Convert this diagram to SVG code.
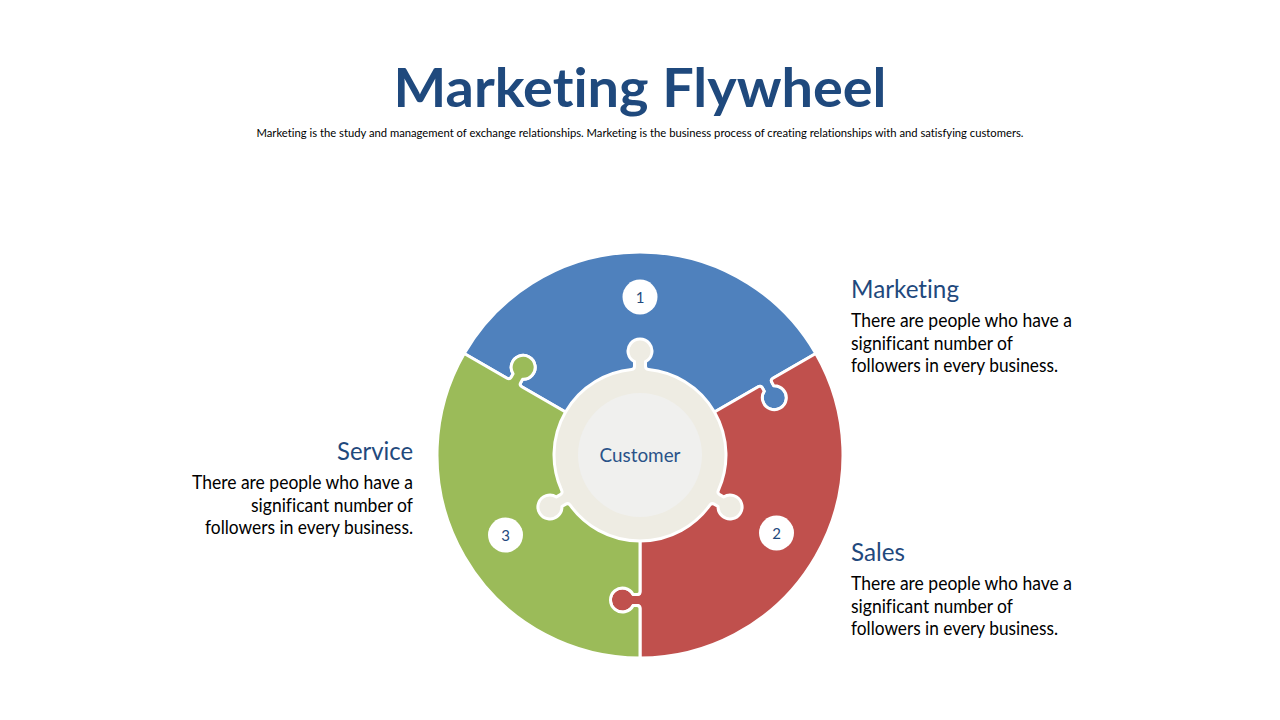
<svg xmlns="http://www.w3.org/2000/svg" width="1280" height="720" viewBox="0 0 1280 720">
<style>
text{font-variant-ligatures:none;font-feature-settings:"liga" 0,"clig" 0}
.piece{stroke:#FFFFFF;stroke-width:3;stroke-linejoin:round}
.title{font-family:Lato,"Open Sans","Liberation Sans",sans-serif;font-weight:bold;font-size:54px;fill:#1F497D}
.sub{font-family:Lato,"Open Sans","Liberation Sans",sans-serif;font-size:12px;fill:#000000}
.head{font-family:Lato,"Open Sans","Liberation Sans",sans-serif;font-size:25px;fill:#1F497D}
.body{font-family:Lato,"Open Sans","Liberation Sans",sans-serif;font-size:18.5px;fill:#000000}
.num{font-family:Lato,"Open Sans","Liberation Sans",sans-serif;font-size:15px;fill:#1F497D;text-anchor:middle}
.badge{fill:#FFFFFF}
</style>
<rect width="1280" height="720" fill="#FFFFFF"/>
<g id="header">
<text class="title" x="640" y="107" text-anchor="middle" textLength="493" lengthAdjust="spacingAndGlyphs">Marketing Flywheel</text>
<text class="sub" x="640" y="137" text-anchor="middle" textLength="767" lengthAdjust="spacingAndGlyphs">Marketing is the study and management of exchange relationships. Marketing is the business process of creating relationships with and satisfying customers.</text>
</g>
<g id="connectors"></g>
<g id="node-marketing">
<path class="piece" fill="#4F81BD" d="M 640 455 L 758.212 386.75 Q 760.810 385.25 762.310 387.848 L 764.228 391.169 A 12 12 0 1 0 773.755 385.669 L 771.837 382.348 Q 770.337 379.75 772.935 378.25 L 815.803 353.5 A 203 203 0 0 0 464.197 353.5 L 507.065 378.25 Q 509.663 379.75 511.163 377.152 L 513.081 373.831 A 12 12 0 1 1 522.608 379.331 L 520.690 382.652 Q 519.190 385.25 521.788 386.75 Z"/>
</g>
<g id="node-sales">
<path class="piece" fill="#C0504D" d="M 640 455 L 640 591.5 Q 640 594.5 637 594.5 L 633.165 594.5 A 12 12 0 1 0 633.165 605.5 L 637 605.5 Q 640 605.5 640 608.5 L 640 658 A 203 203 0 0 0 815.803 353.5 L 772.935 378.25 Q 770.337 379.75 771.837 382.348 L 773.755 385.669 A 12 12 0 1 1 764.228 391.169 L 762.310 387.848 Q 760.810 385.25 758.212 386.75 Z"/>
</g>
<g id="node-service">
<path class="piece" fill="#9BBB59" d="M 640 455 L 521.788 386.75 Q 519.190 385.25 520.690 382.652 L 522.608 379.331 A 12 12 0 1 0 513.081 373.831 L 511.163 377.152 Q 509.663 379.75 507.065 378.25 L 464.197 353.5 A 203 203 0 0 0 640 658 L 640 608.5 Q 640 605.5 637 605.5 L 633.165 605.5 A 12 12 0 1 1 633.165 594.5 L 637 594.5 Q 640 594.5 640 591.5 Z"/>
</g>
<g id="node-customer">
<path class="piece" fill="#EEECE3" d="M 631.5 369.421 Q 634.5 369.176 634.5 366.2 L 634.5 361.665 A 12 12 0 1 1 645.5 361.665 L 645.5 366.2 Q 645.5 369.176 648.5 369.421 A 86 86 0 0 1 718.364 490.429 Q 717.076 493.149 719.653 494.637 L 723.581 496.905 A 12 12 0 1 1 718.081 506.431 L 714.153 504.163 Q 711.576 502.675 709.864 505.151 A 86 86 0 0 1 570.136 505.151 Q 568.424 502.675 565.847 504.163 L 561.919 506.431 A 12 12 0 1 1 556.419 496.905 L 560.347 494.637 Q 562.924 493.149 561.636 490.429 A 86 86 0 0 1 631.5 369.421 Z"/>
<circle cx="640" cy="455" r="62" fill="#F0F0EE"/>
<text x="640" y="461.5" text-anchor="middle" font-family="Lato,'Open Sans','Liberation Sans',sans-serif" font-size="20" fill="#2A5389" textLength="81" lengthAdjust="spacingAndGlyphs">Customer</text>
</g>
<g id="badge-1">
<circle class="badge" cx="640" cy="297" r="17.5"/>
<text class="num" x="640" y="302.5">1</text>
</g>
<g id="badge-2">
<circle class="badge" cx="776.5" cy="533" r="17.5"/>
<text class="num" x="776.5" y="538.5">2</text>
</g>
<g id="badge-3">
<circle class="badge" cx="505.5" cy="535" r="17.5"/>
<text class="num" x="505.5" y="540.5">3</text>
</g>
<g id="label-marketing">
<text class="head" x="851" y="298" textLength="108" lengthAdjust="spacingAndGlyphs">Marketing</text>
<text class="body" x="851" y="327" textLength="221" lengthAdjust="spacingAndGlyphs">There are people who have a</text>
<text class="body" x="851" y="349.5" textLength="162" lengthAdjust="spacingAndGlyphs">significant number of</text>
<text class="body" x="851" y="372" textLength="207" lengthAdjust="spacingAndGlyphs">followers in every business.</text>
</g>
<g id="label-sales">
<text class="head" x="851" y="561" textLength="54" lengthAdjust="spacingAndGlyphs">Sales</text>
<text class="body" x="851" y="590" textLength="221" lengthAdjust="spacingAndGlyphs">There are people who have a</text>
<text class="body" x="851" y="612.5" textLength="162" lengthAdjust="spacingAndGlyphs">significant number of</text>
<text class="body" x="851" y="635" textLength="207" lengthAdjust="spacingAndGlyphs">followers in every business.</text>
</g>
<g id="label-service">
<text class="head" x="413" y="459.5" text-anchor="end" textLength="76" lengthAdjust="spacingAndGlyphs">Service</text>
<text class="body" x="413" y="489" text-anchor="end" textLength="221" lengthAdjust="spacingAndGlyphs">There are people who have a</text>
<text class="body" x="413" y="511.5" text-anchor="end" textLength="162" lengthAdjust="spacingAndGlyphs">significant number of</text>
<text class="body" x="413" y="534" text-anchor="end" textLength="208" lengthAdjust="spacingAndGlyphs">followers in every business.</text>
</g>
</svg>
